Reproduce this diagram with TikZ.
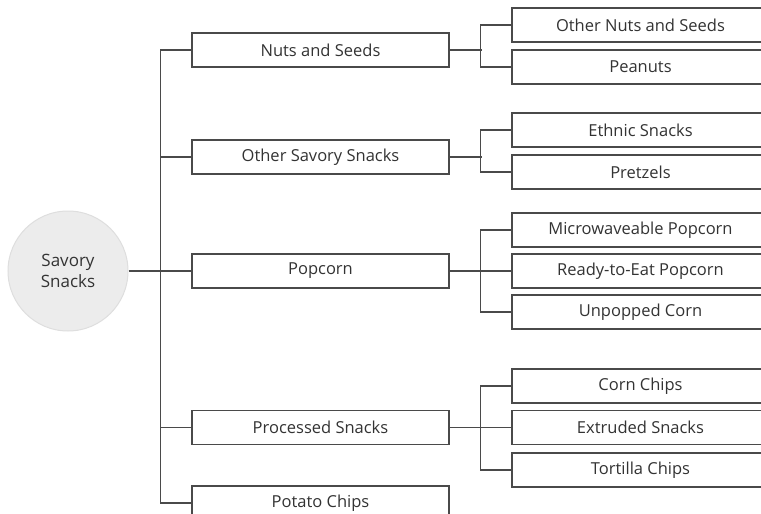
\documentclass[tikz,border=0pt]{standalone}
\usepackage{fontspec}
\setmainfont{Open Sans}
\usetikzlibrary{calc}
\definecolor{snLine}{HTML}{4A4A4A}
\definecolor{snText}{HTML}{333333}
\definecolor{snRoot}{HTML}{ECECEC}
\definecolor{snRootEdge}{HTML}{DEDEDE}
\tikzset{
  snroot/.style={circle, fill=snRoot, draw=snRootEdge, line width=1pt,
    minimum size=120pt, inner sep=0pt, align=center, text=snText,
    font=\fontsize{17}{21}\selectfont},
  snbox/.style={rectangle, draw=snLine, line width=1.2pt, fill=white,
    minimum width=257pt, minimum height=34pt, inner sep=0pt,
    text=snText, font=\fontsize{16.5}{19}\selectfont},
  snlink/.style={snLine, line width=1.2pt}
}
\begin{document}
\begin{tikzpicture}[x=1pt, y=-1pt]
  \useasboundingbox (0,0) rectangle (761,514);
  % root and first level
  \node[snroot] (root) at (68,271) {Savory\\Snacks};
  \node[snbox] (nuts) at (320.5,50) {Nuts and Seeds};
  \node[snbox] (other) at (320.5,157) {Other Savory Snacks};
  \node[snbox] (popcorn) at (320.5,271) {Popcorn};
  \node[snbox] (processed) at (320.5,427.5) {Processed Snacks};
  \node[snbox] (potato) at (320.5,503) {Potato Chips};
  % second level
  \node[snbox] (othernuts) at (640.5,25) {Other Nuts and Seeds};
  \node[snbox] (peanuts) at (640.5,67) {Peanuts};
  \node[snbox] (ethnic) at (640.5,130) {Ethnic Snacks};
  \node[snbox] (pretzels) at (640.5,172) {Pretzels};
  \node[snbox] (micro) at (640.5,230) {Microwaveable Popcorn};
  \node[snbox] (ready) at (640.5,271) {Ready-to-Eat Popcorn};
  \node[snbox] (unpopped) at (640.5,312) {Unpopped Corn};
  \node[snbox] (cornchips) at (640.5,386) {Corn Chips};
  \node[snbox] (extruded) at (640.5,427.5) {Extruded Snacks};
  \node[snbox] (tortilla) at (640.5,470) {Tortilla Chips};
  % trunk
  \coordinate (trunk) at (161,271);
  \draw[snlink] (root.east) -- (trunk);
  \draw[snlink] (nuts.west) -- ++(-31,0) |- (potato.west);
  \foreach \n in {other, popcorn, processed}
    \draw[snlink] (\n.west) -- (\n.west -| trunk);
  % branches
  \foreach \n in {nuts, other, popcorn, processed}
    \draw[snlink] (\n.east) -- ++(32,0);
  \draw[snlink] (othernuts.west) -- ++(-31,0) |- (peanuts.west);
  \draw[snlink] (ethnic.west) -- ++(-31,0) |- (pretzels.west);
  \draw[snlink] (micro.west) -- ++(-31,0) |- (unpopped.west);
  \draw[snlink] (ready.west) -- ++(-31,0);
  \draw[snlink] (cornchips.west) -- ++(-31,0) |- (tortilla.west);
  \draw[snlink] (extruded.west) -- ++(-31,0);
\end{tikzpicture}
\end{document}
